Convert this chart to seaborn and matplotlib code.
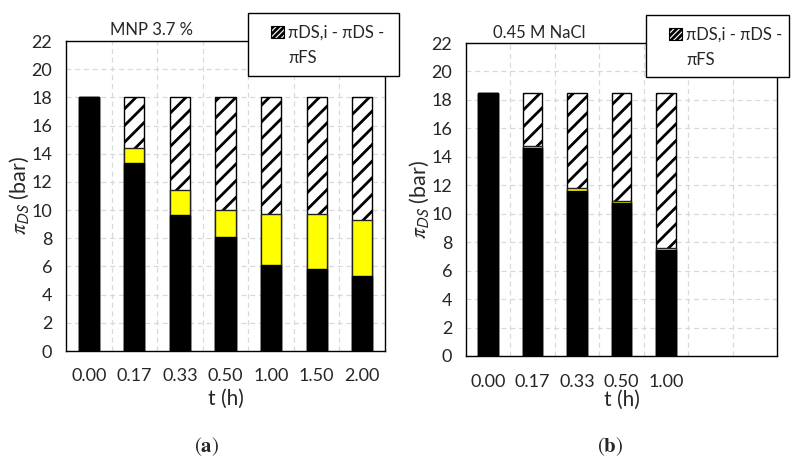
import matplotlib
matplotlib.use("Agg")
import matplotlib.pyplot as plt
from matplotlib.patches import Patch, Rectangle
from matplotlib.ticker import FixedLocator
import seaborn as sns

# data
t_a = ["0.00", "0.17", "0.33", "0.50", "1.00", "1.50", "2.00"]
total_a = [18.0, 18.0, 18.0, 18.0, 18.0, 18.0, 18.0]
yellow_top_a = [18.0, 14.43, 11.43, 10.0, 9.7, 9.7, 9.3]
black_a = [18.0, 13.36, 9.65, 8.07, 6.1, 5.82, 5.32]

t_b = ["0.00", "0.17", "0.33", "0.50", "1.00"]
total_b = [18.5, 18.5, 18.5, 18.5, 18.5]
yellow_top_b = [18.5, 14.78, 11.78, 10.92, 7.62]
black_b = [18.5, 14.6, 11.6, 10.72, 7.42]

titles = ["MNP 3.7 %", "0.45 M NaCl"]
legend_line1 = "πDS,i - πDS -"
legend_line2 = "πFS"

sns.set_style("white")
plt.rcParams["font.family"] = ["Lato", "DejaVu Sans"]
plt.rcParams["mathtext.fontset"] = "stix"
plt.rcParams["hatch.linewidth"] = 2.0

W, H = 799, 463
fig = plt.figure(figsize=(W / 100, H / 100), dpi=100)


def fig_box(x0, y0, x1, y1):
    # pixel box (top-left origin) -> figure fraction rect
    return [x0 / W, 1 - y1 / H, (x1 - x0) / W, (y1 - y0) / H]


ax_a = fig.add_axes(fig_box(66, 41, 385, 351))
ax_b = fig.add_axes(fig_box(466, 43, 777, 356))


def draw_panel(ax, t, total, yellow_top, black, xpad, xlabelpad):
    bw = 0.44
    sns.barplot(x=t, y=total, color="white", edgecolor="black", linewidth=1.0,
                hatch="//", width=bw, saturation=1, errorbar=None, ax=ax)
    sns.barplot(x=t, y=yellow_top, color="#FFFF00", edgecolor="#222222",
                linewidth=1.0, width=bw, saturation=1, errorbar=None, ax=ax)
    sns.barplot(x=t, y=black, color="black", edgecolor="black", linewidth=1.0,
                width=bw, saturation=1, errorbar=None, ax=ax)
    ax.set_xlim(-0.5, 6.5)
    ax.set_ylim(0, 22)
    ax.set_yticks(range(0, 23, 2))
    ax.xaxis.set_minor_locator(FixedLocator([i + 0.5 for i in range(6)]))
    ax.set_axisbelow(True)
    ax.grid(True, axis="y", which="major", color="#d9d9d9",
            linestyle=(0, (4, 3)), linewidth=0.9)
    ax.grid(True, axis="x", which="minor", color="#d9d9d9",
            linestyle=(0, (4, 3)), linewidth=0.9)
    ax.grid(False, axis="x", which="major")
    for s in ax.spines.values():
        s.set_color("black")
        s.set_linewidth(1.0)
    ax.tick_params(axis="both", which="both", length=0, labelsize=13)
    ax.tick_params(axis="x", pad=xpad)
    ax.tick_params(axis="y", pad=10)
    ax.set_xlabel("t (h)", fontsize=15, labelpad=xlabelpad)
    ax.set_ylabel(r"$\pi_{\mathsf{DS}}$ (bar)", fontsize=15.5, labelpad=0)


draw_panel(ax_a, t_a, total_a, yellow_top_a, black_a, 12, 4)
draw_panel(ax_b, t_b, total_b, yellow_top_b, black_b, 13, 0)

# panel titles
fig.text(152 / W, 1 - 30 / H, titles[0], ha="center", va="center", fontsize=12)
fig.text(539 / W, 1 - 33 / H, titles[1], ha="center", va="center", fontsize=12)

# legend boxes
handle = Patch(facecolor="white", edgecolor="black", hatch="//////", linewidth=0.8)
for (x0, y0, x1, y1) in [(248, 13, 399, 76), (646, 15, 789, 77)]:
    fig.add_artist(Rectangle((x0 / W, 1 - y1 / H), (x1 - x0) / W, (y1 - y0) / H,
                             transform=fig.transFigure, facecolor="white",
                             edgecolor="black", linewidth=1.0, zorder=4))
    leg = fig.legend([handle], [legend_line1], loc="center left",
                     bbox_to_anchor=((x0 + 23) / W, 1 - (y0 + 20) / H),
                     frameon=False, fontsize=12, handlelength=0.75,
                     handleheight=0.75, handletextpad=0.25, borderpad=0,
                     borderaxespad=0)
    leg.set_zorder(5)
    fig.text((x0 + 40) / W, 1 - (y0 + 45) / H, legend_line2, ha="left",
             va="center", fontsize=12, zorder=6)

# panel letters
fig.text(207 / W, 1 - 447 / H, r"$(\mathbf{a})$", ha="center", va="center", fontsize=15)
fig.text(610 / W, 1 - 447 / H, r"$(\mathbf{b})$", ha="center", va="center", fontsize=15)

fig.savefig("out.png", dpi=100)
